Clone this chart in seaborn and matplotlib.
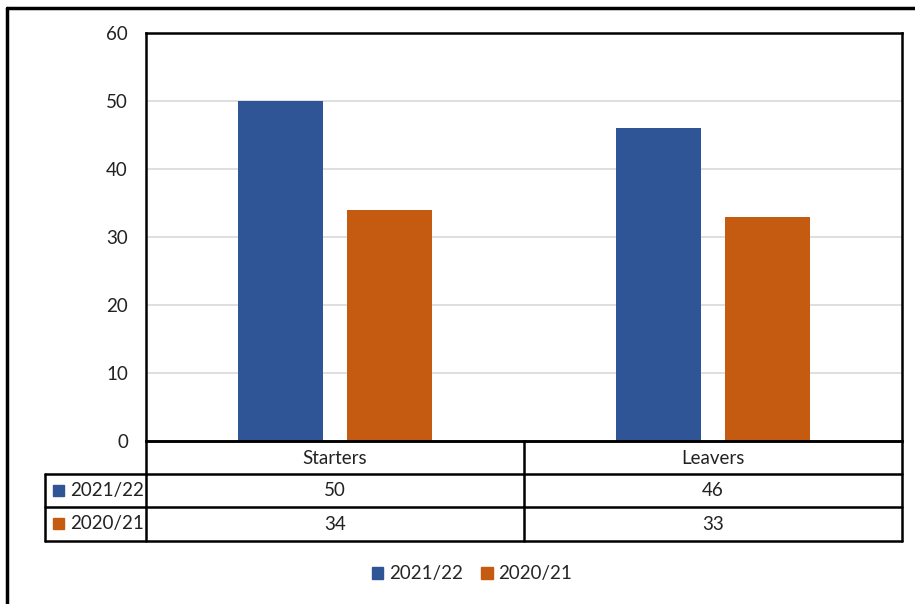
import matplotlib
matplotlib.use("Agg")
import matplotlib.pyplot as plt
import seaborn as sns
import pandas as pd
from matplotlib.lines import Line2D
from matplotlib.patches import Rectangle

categories = ["Starters", "Leavers"]
series = ["2021/22", "2020/21"]
values_2122 = [50, 46]
values_2021 = [34, 33]
yticks = [0, 10, 20, 30, 40, 50, 60]
colors = ["#2F5597", "#C55A11"]

df = pd.DataFrame({
    "category": categories * 2,
    "series": [series[0]] * 2 + [series[1]] * 2,
    "value": values_2122 + values_2021,
})

sns.set_style("white")
plt.rcParams['font.family'] = ['Lato', 'DejaVu Sans']

W, H = 915, 604
fig = plt.figure(figsize=(W / 100, H / 100), dpi=100)

def fx(x):
    return x / W

def fy(y):
    return 1 - y / H

L, R, T, B = 146, 902, 33, 441
ax = fig.add_axes([fx(L), fy(B), fx(R) - fx(L), fy(T) - fy(B)])
sns.barplot(data=df, x="category", y="value", hue="series", palette=colors,
            width=0.577, gap=0.22, ax=ax, legend=False, saturation=1,
            order=categories, hue_order=series, linewidth=0)
ax.set_ylim(0, 60)
ax.set_xlim(-0.5, 1.5)
ax.set_yticks(yticks)
fs = 13.5
ax.set_yticklabels([str(t) for t in yticks], fontsize=fs, color="#222222")
ax.tick_params(axis="y", length=0, pad=13)
ax.set_xticks([])
ax.set_xlabel("")
ax.set_ylabel("")
ax.yaxis.grid(True, color="#D9D9D9", linewidth=1.2)
ax.set_axisbelow(True)
for s in ax.spines.values():
    s.set_visible(True)
    s.set_color("black")
    s.set_linewidth(1.8)

lw = 1.8

def hline(x0, x1, y):
    fig.add_artist(Line2D([fx(x0), fx(x1)], [fy(y), fy(y)], color="black", lw=lw))

def vline(x, y0, y1):
    fig.add_artist(Line2D([fx(x), fx(x)], [fy(y0), fy(y1)], color="black", lw=lw))

# outer frame
fig.add_artist(Line2D([fx(7), 1.0], [fy(8), fy(8)], color="black", lw=2.5))
fig.add_artist(Line2D([fx(7), fx(7)], [fy(8), 0.0], color="black", lw=2.5))

# data table
rows_y = [441, 474, 507, 541]
col_x = [45, 146, 524, 902]
hline(146, 902, 441)
hline(45, 902, 474)
hline(45, 902, 507)
hline(45, 902, 541)
vline(45, 474, 541)
vline(146, 441, 541)
vline(524, 441, 541)
vline(902, 441, 541)

for i, c in enumerate(categories):
    cx = (col_x[i + 1] + col_x[i + 2]) / 2
    fig.text(fx(cx), fy(458), c, ha="center", va="center", fontsize=fs, color="#222222")
all_vals = [values_2122, values_2021]
for r, (name, vals) in enumerate(zip(series, all_vals)):
    cy = (rows_y[r + 1] + rows_y[r + 2]) / 2
    fig.add_artist(Rectangle((fx(53), fy(cy + 5)), fx(11), fy(0) - fy(11), color=colors[r],
                             transform=fig.transFigure))
    fig.text(fx(70), fy(cy), name, ha="left", va="center", fontsize=fs, color="#222222")
    for i, v in enumerate(vals):
        cx = (col_x[i + 1] + col_x[i + 2]) / 2
        fig.text(fx(cx), fy(cy), str(v), ha="center", va="center", fontsize=fs, color="#222222")

# legend
handles = [Rectangle((0, 0), 1, 1, color=colors[0]), Rectangle((0, 0), 1, 1, color=colors[1])]
fig.legend(handles, series, loc="center", bbox_to_anchor=(fx(472), fy(574)), ncol=2,
           frameon=False, fontsize=fs, handlelength=0.6, handleheight=0.6,
           handletextpad=0.3, columnspacing=1.0, borderpad=0.2)

fig.savefig("out.png", dpi=100)
